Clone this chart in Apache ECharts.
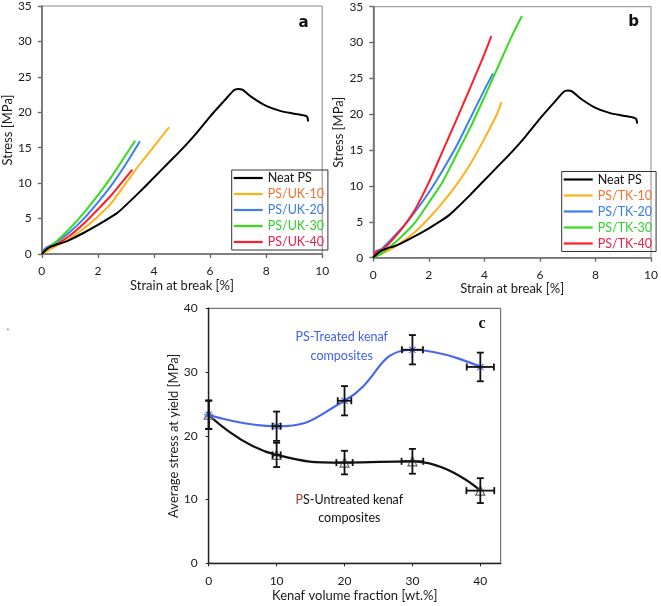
<!DOCTYPE html>
<html><head><meta charset="utf-8">
<script src="https://cdn.jsdelivr.net/npm/echarts@6/dist/echarts.min.js"></script>
<style>html,body{margin:0;padding:0;background:#fff}#c{width:661px;height:606px}</style>
</head><body><div id="c"></div>
<script>
// ---------- Data ----------
const stressTicks = [0, 5, 10, 15, 20, 25, 30, 35];
const strainTicks = [0, 2, 4, 6, 8, 10];
const fractionTicks = [0, 10, 20, 30, 40];
const yieldTicks = [0, 10, 20, 30, 40];

// Neat PS (same in a and b)
const neatStrain = [0, 0.15, 0.3, 0.5, 0.75, 1, 1.5, 2, 2.5, 2.72, 3, 3.5, 4, 4.5, 5, 5.5, 6, 6.5, 6.85, 7, 7.15, 7.5, 8, 8.5, 9, 9.4, 9.47, 9.5];
const neatStress = [0, 0.6, 1.0, 1.3, 1.6, 2.0, 3.0, 4.1, 5.3, 5.9, 6.9, 8.8, 10.8, 12.8, 14.8, 17.0, 19.4, 21.6, 23.1, 23.3, 23.2, 22.1, 20.9, 20.2, 19.8, 19.5, 19.3, 18.7];

// Panel a: untreated kenaf
const uk10Strain = [0, 0.5, 1, 1.5, 2, 2.5, 3, 3.5, 4, 4.54];
const uk10Stress = [0, 1.1, 2.2, 3.6, 5.3, 7.3, 10.0, 12.7, 15.2, 17.9];
const uk20Strain = [0, 0.1, 0.25, 0.5, 1, 1.5, 2, 2.5, 3, 3.5];
const uk20Stress = [0, 0.7, 1.1, 1.6, 3.1, 5.0, 7.3, 9.8, 12.7, 15.9];
const uk30Strain = [0, 0.2, 0.5, 1, 1.5, 2, 2.5, 3, 3.33];
const uk30Stress = [0, 0.8, 1.7, 3.6, 5.8, 8.3, 11.0, 14.0, 16.0];
const uk40Strain = [0, 0.2, 0.5, 1, 1.5, 2, 2.5, 3, 3.23];
const uk40Stress = [0, 0.8, 1.3, 2.6, 4.3, 6.3, 8.4, 10.8, 11.9];

// Panel b: treated kenaf
const tk10Strain = [0, 0.5, 1, 1.5, 2, 2.5, 3, 3.5, 4, 4.45, 4.61];
const tk10Stress = [0, 0.9, 2.1, 3.6, 5.5, 7.7, 10.2, 13.1, 16.6, 20.0, 21.7];
const tk20Strain = [0, 0.1, 0.3, 0.5, 1, 1.5, 2, 2.5, 3, 3.5, 4, 4.31];
const tk20Stress = [0, 0.9, 1.2, 2.0, 4.0, 6.4, 9.1, 12.2, 15.6, 19.5, 23.4, 25.7];
const tk30Strain = [0, 0.3, 0.5, 1, 1.5, 2, 2.5, 3, 3.5, 4, 4.5, 5, 5.35];
const tk30Stress = [0, 0.6, 1.2, 2.9, 4.9, 7.7, 10.6, 14.4, 18.2, 22.4, 26.7, 31.0, 33.7];
const tk40Strain = [0, 0.1, 0.3, 0.5, 1, 1.5, 2, 2.5, 3, 3.5, 4, 4.25];
const tk40Stress = [0, 0.8, 1.1, 1.7, 3.9, 6.7, 10.5, 14.9, 19.3, 23.8, 28.4, 30.9];

// Panel c: average stress at yield
const fractions = [0, 10, 20, 30, 40];
const treatedYield = [23.3, 21.5, 25.5, 33.5, 30.8];
const treatedYErr = [2.25, 2.3, 2.3, 2.3, 2.25];
const treatedXErr = [0, 0.6, 1.0, 1.55, 2.0];
const untreatedYield = [23.3, 17.0, 15.8, 16.0, 11.4];
const untreatedYErr = [2.2, 1.9, 1.85, 1.95, 1.95];
const untreatedXErr = [0, 0.6, 1.2, 1.6, 2.05];

// ---------- Build ----------
const zip = (xs, ys) => xs.map((x, i) => [x, ys[i]]);
const FONT = 'Lato';
const C = { neat: '#000000', c10: '#ffb11a', c20: '#3d7ff0', c30: '#35dc1e', c40: '#ff1c2c' };
const T = { neat: '#111111', c10: '#f4732c', c20: '#3b7ce6', c30: '#2fd12a', c40: '#ec1f4b' };

function valAxis(gi, ticks, extra) {
  return Object.assign({
    type: 'value', gridIndex: gi,
    min: ticks[0], max: ticks[ticks.length - 1], interval: ticks[1] - ticks[0],
    splitLine: { show: false },
    axisLine: { show: true, onZero: false, lineStyle: { color: '#6a6a6a', width: 1.6 } },
    axisTick: { show: true, length: 4, lineStyle: { color: '#6a6a6a', width: 1.4 } },
    axisLabel: { color: '#1a1a1a', fontSize: 12, fontFamily: FONT, margin: 10 },
    nameLocation: 'middle',
    nameTextStyle: { color: '#1a1a1a', fontSize: 13, fontFamily: FONT }
  }, extra || {});
}

function curve(name, xs, ys, color, xi) {
  return { name, type: 'line', xAxisIndex: xi, yAxisIndex: xi, data: zip(xs, ys),
    symbol: 'none', smooth: 0.25, lineStyle: { color, width: 2 }, itemStyle: { color }, z: 3 };
}

function legendCfg(left, top, names, keys) {
  return {
    orient: 'vertical', left, top, icon: 'rect', itemWidth: 29, itemHeight: 2.2, itemGap: 2,
    padding: [1, 4, 1, 2], borderColor: '#333', borderWidth: 1, selectedMode: false,
    textStyle: { fontSize: 12.5, fontFamily: FONT, lineHeight: 14 },
    data: names.map((n, i) => ({ name: n, textStyle: { color: T[keys[i]] } }))
  };
}

function errRender(params, api) {
  const x = api.value(0), y = api.value(1), ey = api.value(2), ex = api.value(3);
  const top = api.coord([x, y + ey]), bot = api.coord([x, y - ey]);
  const l = api.coord([x - ex, y]), r = api.coord([x + ex, y]);
  const cw = 3.5;
  const st = { stroke: '#111', lineWidth: 1.8 };
  const ch = [
    { type: 'line', shape: { x1: top[0], y1: top[1], x2: bot[0], y2: bot[1] }, style: st },
    { type: 'line', shape: { x1: top[0] - cw, y1: top[1], x2: top[0] + cw, y2: top[1] }, style: st },
    { type: 'line', shape: { x1: bot[0] - cw, y1: bot[1], x2: bot[0] + cw, y2: bot[1] }, style: st }
  ];
  if (ex > 0) {
    ch.push({ type: 'line', shape: { x1: l[0], y1: l[1], x2: r[0], y2: r[1] }, style: st });
    ch.push({ type: 'line', shape: { x1: l[0], y1: l[1] - cw, x2: l[0], y2: l[1] + cw }, style: st });
    ch.push({ type: 'line', shape: { x1: r[0], y1: r[1] - cw, x2: r[0], y2: r[1] + cw }, style: st });
  }
  return { type: 'group', children: ch };
}

const star = 'path://M-0.12,-1L0.12,-1L0.12,1L-0.12,1Z M-1,-0.12L1,-0.12L1,0.12L-1,0.12Z M-0.79,-0.62L-0.62,-0.79L0.79,0.62L0.62,0.79Z M0.62,-0.79L0.79,-0.62L-0.62,0.79L-0.79,0.62Z';

const option = {
  animation: false,
  textStyle: { fontFamily: FONT },
  grid: [
    { left: 41.7, top: 6, width: 280.5, height: 248, show: true, borderColor: '#8a8a8a', borderWidth: 1 },
    { left: 373.3, top: 6.7, width: 280, height: 251, show: true, borderColor: '#8a8a8a', borderWidth: 1 },
    { left: 208.7, top: 308.3, width: 292, height: 255, show: true, borderColor: '#555', borderWidth: 1 }
  ],
  xAxis: [
    valAxis(0, strainTicks, { name: 'Strain at break [%]', nameGap: 25, axisLabel: { color: '#1a1a1a', fontSize: 12, fontFamily: FONT, margin: 11 } }),
    valAxis(1, strainTicks, { name: 'Strain at break [%]', nameGap: 25, axisLabel: { color: '#1a1a1a', fontSize: 12, fontFamily: FONT, margin: 11 } }),
    valAxis(2, fractionTicks, {
      max: 43, name: 'Kenaf volume fraction [wt.%]', nameGap: 26,
      axisLine: { show: true, onZero: false, lineStyle: { color: '#222', width: 1.4 } },
      axisTick: { show: true, length: 3, lineStyle: { color: '#222' } },
      axisLabel: { color: '#1a1a1a', fontSize: 12, fontFamily: FONT, margin: 12, showMaxLabel: false,
        formatter: v => (v % 10 === 0 ? String(v) : '') }
    })
  ],
  yAxis: [
    valAxis(0, stressTicks, { name: 'Stress [MPa]', nameGap: 27 }),
    valAxis(1, stressTicks, { name: 'Stress [MPa]', nameGap: 27 }),
    valAxis(2, yieldTicks, {
      name: 'Average stress at yield [MPa]', nameGap: 28,
      axisLine: { show: true, onZero: false, lineStyle: { color: '#222', width: 1.4 } },
      axisTick: { show: true, length: 3, lineStyle: { color: '#222' } },
      axisLabel: { color: '#1a1a1a', fontSize: 12, fontFamily: FONT, margin: 11 }
    })
  ],
  legend: [
    legendCfg(231.7, 170, ['Neat PS', 'PS/UK-10', 'PS/UK-20', 'PS/UK-30', 'PS/UK-40'], ['neat', 'c10', 'c20', 'c30', 'c40']),
    legendCfg(561.7, 171.5, ['Neat PS', 'PS/TK-10', 'PS/TK-20', 'PS/TK-30', 'PS/TK-40'], ['neat', 'c10', 'c20', 'c30', 'c40'])
  ],
  series: [
    curve('PS/UK-10', uk10Strain, uk10Stress, C.c10, 0),
    curve('PS/UK-20', uk20Strain, uk20Stress, C.c20, 0),
    curve('PS/UK-40', uk40Strain, uk40Stress, C.c40, 0),
    curve('PS/UK-30', uk30Strain, uk30Stress, C.c30, 0),
    curve('Neat PS', neatStrain, neatStress, C.neat, 0),
    curve('PS/TK-10', tk10Strain, tk10Stress, C.c10, 1),
    curve('PS/TK-30', tk30Strain, tk30Stress, C.c30, 1),
    curve('PS/TK-20', tk20Strain, tk20Stress, C.c20, 1),
    curve('PS/TK-40', tk40Strain, tk40Stress, C.c40, 1),
    curve('Neat PS', neatStrain, neatStress, C.neat, 1),
    { name: 'PS-Untreated', type: 'line', xAxisIndex: 2, yAxisIndex: 2, smooth: true,
      data: zip(fractions, untreatedYield), symbol: 'triangle', symbolSize: 9,
      itemStyle: { color: 'rgba(255,255,255,0)', borderColor: '#666', borderWidth: 1.2 },
      lineStyle: { color: '#111', width: 2.2 }, z: 3 },
    { name: 'PS-Treated', type: 'line', xAxisIndex: 2, yAxisIndex: 2, smooth: true,
      data: zip(fractions, treatedYield), symbol: star, symbolSize: 9,
      itemStyle: { color: '#4868e8' }, lineStyle: { color: '#4868e8', width: 2.2 }, z: 3 },
    { type: 'custom', xAxisIndex: 2, yAxisIndex: 2, renderItem: errRender, z: 4,
      data: fractions.map((f, i) => [f, untreatedYield[i], untreatedYErr[i], untreatedXErr[i]]) },
    { type: 'custom', xAxisIndex: 2, yAxisIndex: 2, renderItem: errRender, z: 4,
      data: fractions.map((f, i) => [f, treatedYield[i], treatedYErr[i], treatedXErr[i]]) }
  ],
  graphic: [
    { type: 'text', x: 303.5, y: 23.5, style: { text: 'a', font: 'bold 15px "DejaVu Sans", sans-serif', fill: '#111', align: 'center', verticalAlign: 'middle' } },
    { type: 'text', x: 633.5, y: 22, style: { text: 'b', font: 'bold 15px "DejaVu Sans", sans-serif', fill: '#111', align: 'center', verticalAlign: 'middle' } },
    { type: 'text', x: 482, y: 324, style: { text: 'c', font: 'bold 16px "Liberation Serif", serif', fill: '#111', align: 'center', verticalAlign: 'middle' } },
    { type: 'text', x: 341.7, y: 346.5, style: { text: 'PS-Treated kenaf\ncomposites', fontFamily: 'Lato', fontSize: 12.5, fill: '#3f5ff0', align: 'center', verticalAlign: 'middle', lineHeight: 19 } },
    { type: 'text', x: 349.3, y: 509, style: { text: '{r|P}S-Untreated kenaf\ncomposites', fontFamily: 'Lato', fontSize: 12.5, fill: '#111', align: 'center', verticalAlign: 'middle', lineHeight: 18.5,
      rich: { r: { fill: '#b03a2a', fontFamily: 'Lato', fontSize: 12.5 } } } },
    { type: 'text', x: 8, y: 326, style: { text: '.', fontFamily: 'Lato', fontSize: 12, fill: '#666', align: 'center', verticalAlign: 'middle' } }
  ]
};

const chart = echarts.init(document.getElementById('c'), null, { renderer: 'canvas' });
chart.setOption(option);
</script></body></html>
